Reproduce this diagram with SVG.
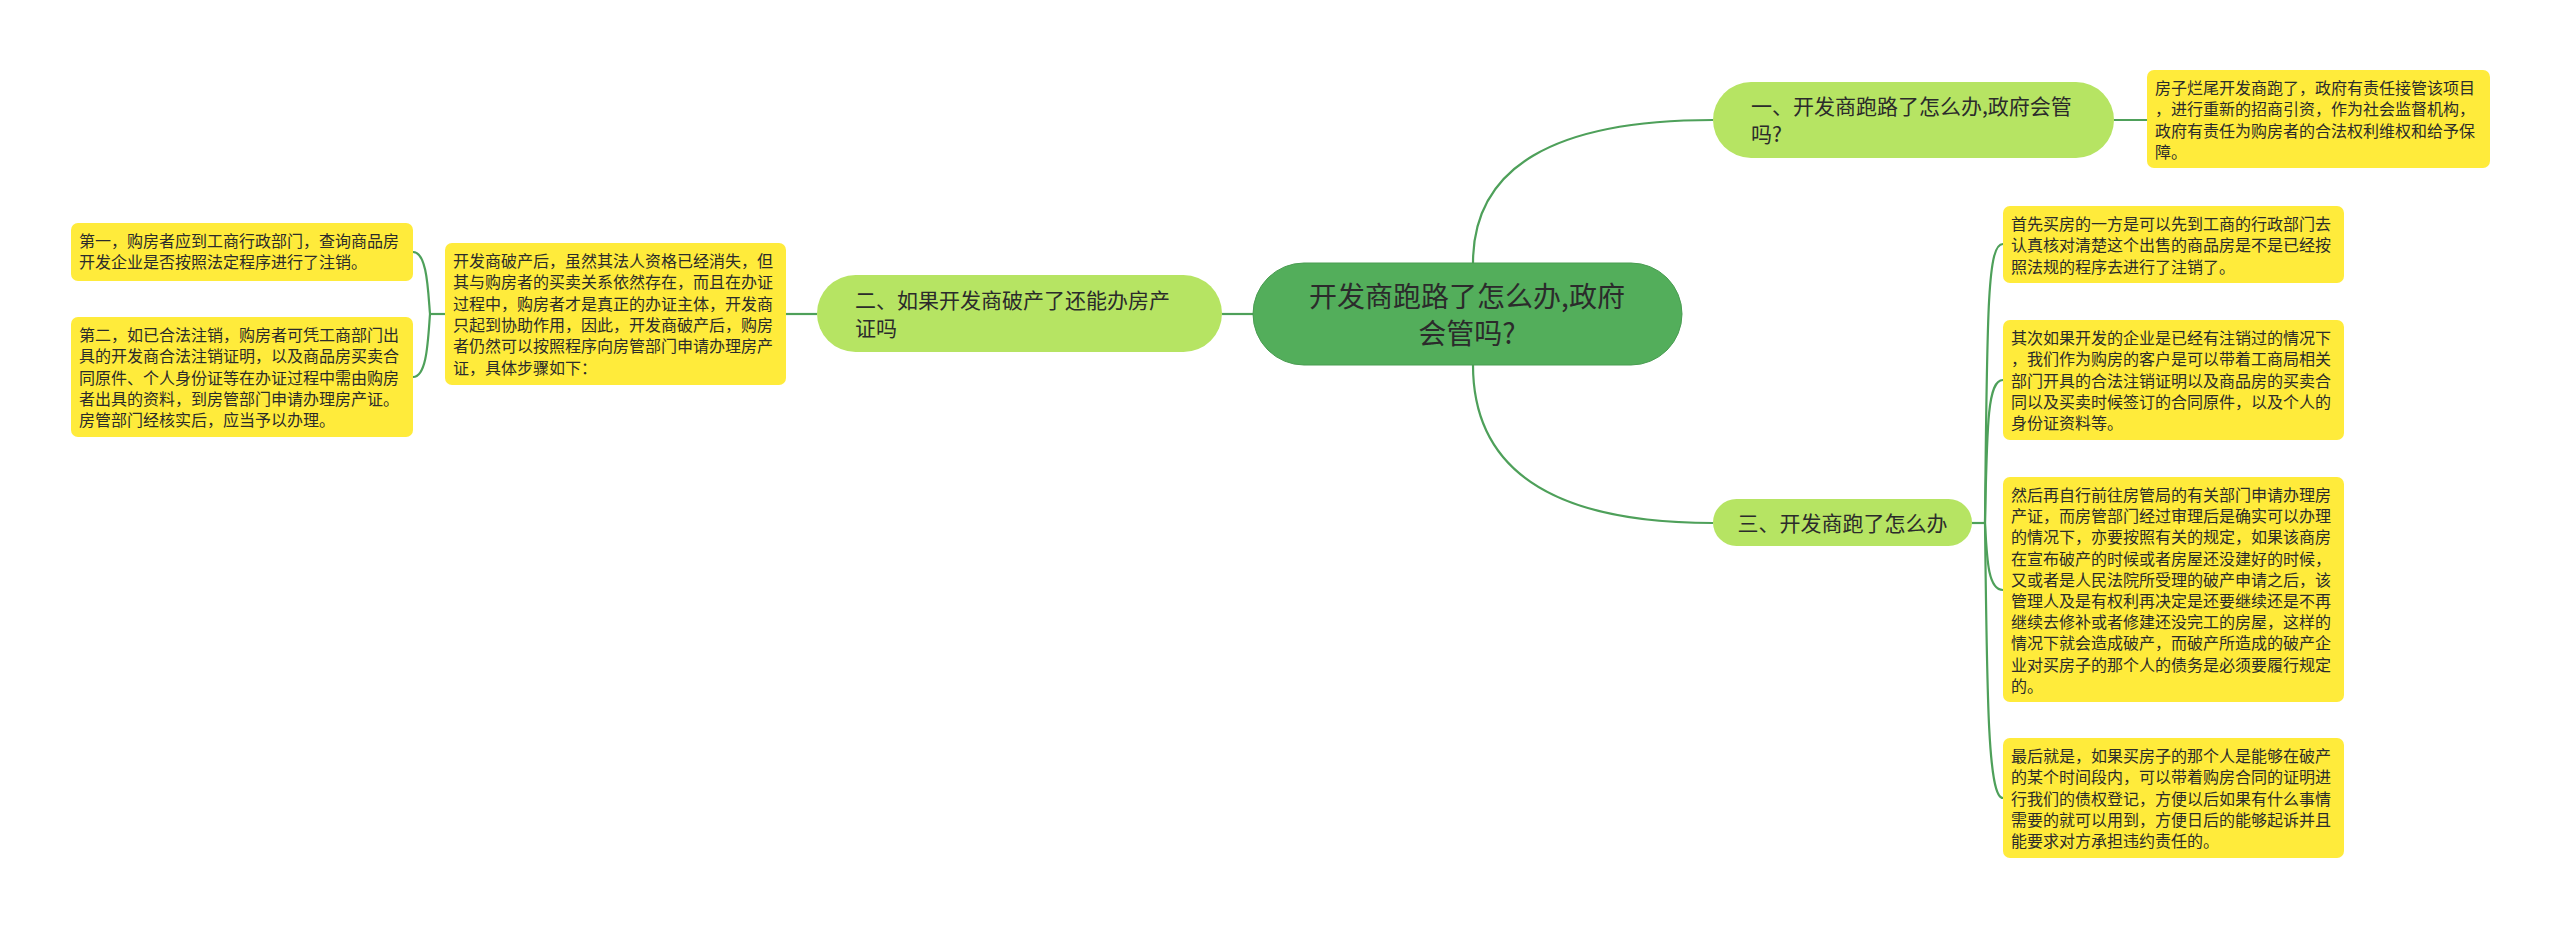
<svg xmlns="http://www.w3.org/2000/svg" width="2560" height="929" viewBox="0 0 2560 929">
<style>
text{font-family:"Noto Sans CJK SC","Noto Sans",sans-serif;fill:#2b2b2b}
.c{fill:none;stroke:#4ea05a;stroke-width:2.2}
.root{fill:#53ae5b;stroke:#4a9d52;stroke-width:1}
.br{fill:#b6e463}
.note{fill:#ffeb3b}
.rt{font-size:28px}
.bt{font-size:21px}
.nt{font-size:16px}
</style>
<rect width="2560" height="929" fill="#ffffff"/>
<g id="connectors">
<path class="c" d="M1473,263 Q1473,120 1713,120"/>
<path class="c" d="M1473,365 Q1473,523 1713,523"/>
<path class="c" d="M1253,314 L1222,314"/>
<path class="c" d="M2114,120 L2147,120"/>
<path class="c" d="M817,314 L786,314"/>
<path class="c" d="M445,314 L430,314"/>
<path class="c" d="M430,314 C428,290 427,252 413,252"/>
<path class="c" d="M430,314 C428,340 427,377 413,377"/>
<path class="c" d="M1972,523 L1985,523"/>
<path class="c" d="M1985,523 C1987,300 1988,244 2003,244"/>
<path class="c" d="M1985,523 C1987,420 1988,380 2003,380"/>
<path class="c" d="M1985,523 C1987,560 1988,590 2003,590"/>
<path class="c" d="M1985,523 C1987,700 1988,798 2003,798"/>
</g>
<g id="root">
<rect class="root" x="1253" y="263" width="429" height="102" rx="51"/>
<text class="rt" x="1467" y="307" text-anchor="middle">开发商跑路了怎么办,政府</text>
<text class="rt" x="1467" y="344" text-anchor="middle">会管吗?</text>
</g>
<g id="branch1">
<rect class="br" x="1713" y="82" width="401" height="76" rx="38"/>
<text class="bt" x="1751" y="114">一、开发商跑路了怎么办,政府会管</text>
<text class="bt" x="1751" y="142">吗?</text>
</g>
<g id="note1">
<rect class="note" x="2147" y="70" width="343" height="98" rx="7"/>
<text class="nt"><tspan x="2155" y="94">房子烂尾开发商跑了，政府有责任接管该项目</tspan><tspan x="2155" y="115.3">，进行重新的招商引资，作为社会监督机构，</tspan><tspan x="2155" y="136.6">政府有责任为购房者的合法权利维权和给予保</tspan><tspan x="2155" y="157.9">障。</tspan></text>
</g>
<g id="branch2">
<rect class="br" x="817" y="275" width="405" height="77" rx="38.5"/>
<text class="bt" x="855" y="308">二、如果开发商破产了还能办房产</text>
<text class="bt" x="855" y="336">证吗</text>
</g>
<g id="note2">
<rect class="note" x="445" y="243" width="341" height="142" rx="7"/>
<text class="nt"><tspan x="453" y="267">开发商破产后，虽然其法人资格已经消失，但</tspan><tspan x="453" y="288.3">其与购房者的买卖关系依然存在，而且在办证</tspan><tspan x="453" y="309.6">过程中，购房者才是真正的办证主体，开发商</tspan><tspan x="453" y="330.9">只起到协助作用，因此，开发商破产后，购房</tspan><tspan x="453" y="352.2">者仍然可以按照程序向房管部门申请办理房产</tspan><tspan x="453" y="373.5">证，具体步骤如下：</tspan></text>
</g>
<g id="note2a">
<rect class="note" x="71" y="223" width="342" height="58" rx="7"/>
<text class="nt"><tspan x="79" y="247">第一，购房者应到工商行政部门，查询商品房</tspan><tspan x="79" y="268.3">开发企业是否按照法定程序进行了注销。</tspan></text>
</g>
<g id="note2b">
<rect class="note" x="71" y="317" width="342" height="120" rx="7"/>
<text class="nt"><tspan x="79" y="341">第二，如已合法注销，购房者可凭工商部门出</tspan><tspan x="79" y="362.3">具的开发商合法注销证明，以及商品房买卖合</tspan><tspan x="79" y="383.6">同原件、个人身份证等在办证过程中需由购房</tspan><tspan x="79" y="404.9">者出具的资料，到房管部门申请办理房产证。</tspan><tspan x="79" y="426.2">房管部门经核实后，应当予以办理。</tspan></text>
</g>
<g id="branch3">
<rect class="br" x="1713" y="499" width="259" height="47" rx="23.5"/>
<text class="bt" x="1842.5" y="531" text-anchor="middle">三、开发商跑了怎么办</text>
</g>
<g id="note3a">
<rect class="note" x="2003" y="206" width="341" height="77" rx="7"/>
<text class="nt"><tspan x="2011" y="230">首先买房的一方是可以先到工商的行政部门去</tspan><tspan x="2011" y="251.3">认真核对清楚这个出售的商品房是不是已经按</tspan><tspan x="2011" y="272.6">照法规的程序去进行了注销了。</tspan></text>
</g>
<g id="note3b">
<rect class="note" x="2003" y="320" width="341" height="120" rx="7"/>
<text class="nt"><tspan x="2011" y="344">其次如果开发的企业是已经有注销过的情况下</tspan><tspan x="2011" y="365.3">，我们作为购房的客户是可以带着工商局相关</tspan><tspan x="2011" y="386.6">部门开具的合法注销证明以及商品房的买卖合</tspan><tspan x="2011" y="407.9">同以及买卖时候签订的合同原件，以及个人的</tspan><tspan x="2011" y="429.2">身份证资料等。</tspan></text>
</g>
<g id="note3c">
<rect class="note" x="2003" y="477" width="341" height="225" rx="7"/>
<text class="nt"><tspan x="2011" y="501">然后再自行前往房管局的有关部门申请办理房</tspan><tspan x="2011" y="522.2">产证，而房管部门经过审理后是确实可以办理</tspan><tspan x="2011" y="543.4">的情况下，亦要按照有关的规定，如果该商房</tspan><tspan x="2011" y="564.6">在宣布破产的时候或者房屋还没建好的时候，</tspan><tspan x="2011" y="585.8">又或者是人民法院所受理的破产申请之后，该</tspan><tspan x="2011" y="607">管理人及是有权利再决定是还要继续还是不再</tspan><tspan x="2011" y="628.2">继续去修补或者修建还没完工的房屋，这样的</tspan><tspan x="2011" y="649.4">情况下就会造成破产，而破产所造成的破产企</tspan><tspan x="2011" y="670.6">业对买房子的那个人的债务是必须要履行规定</tspan><tspan x="2011" y="691.8">的。</tspan></text>
</g>
<g id="note3d">
<rect class="note" x="2003" y="738" width="341" height="120" rx="7"/>
<text class="nt"><tspan x="2011" y="762">最后就是，如果买房子的那个人是能够在破产</tspan><tspan x="2011" y="783.3">的某个时间段内，可以带着购房合同的证明进</tspan><tspan x="2011" y="804.6">行我们的债权登记，方便以后如果有什么事情</tspan><tspan x="2011" y="825.9">需要的就可以用到，方便日后的能够起诉并且</tspan><tspan x="2011" y="847.2">能要求对方承担违约责任的。</tspan></text>
</g>
</svg>
